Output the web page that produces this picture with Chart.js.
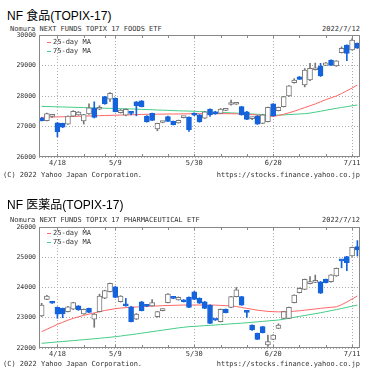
<!doctype html>
<html lang="ja">
<head>
<meta charset="utf-8">
<title>NF 食品 / NF 医薬品 (TOPIX-17)</title>
<script src="https://cdn.jsdelivr.net/npm/chart.js"></script>
<style>
  body { margin: 0; width: 374px; height: 380px; background: #fff; position: relative; overflow: hidden; }
  .t { position: absolute; white-space: nowrap; }
  .title { font: 12px 'Liberation Sans', 'Noto Sans CJK JP', sans-serif; color: #000; line-height: 14px; }
  .small { font: 7px 'DejaVu Sans Mono', monospace; color: #333; line-height: 9px; }
  .dash { position: absolute; width: 4px; height: 1px; }
  canvas { position: absolute; left: 0; }
</style>
</head>
<body>
<div class="t title" style="left:7px;top:9px">NF 食品(TOPIX-17)</div>
<div class="t small" style="left:10px;top:25px">Nomura NEXT FUNDS TOPIX 17 FOODS ETF</div>
<div class="t small" style="right:14px;top:25px">2022/7/12</div>
<canvas id="food" width="374" height="147" style="top:25px"></canvas>
<div class="dash" style="left:47px;top:42px;background:#f66"></div>
<div class="t small" style="left:53px;top:38px">25-day MA</div>
<div class="dash" style="left:47px;top:51px;background:#4c8"></div>
<div class="t small" style="left:53px;top:46.5px">75-day MA</div>
<div class="t small" style="left:3px;top:170.5px">(C) 2022 Yahoo Japan Corporation.</div>
<div class="t small" style="right:14px;top:170.5px">https://stocks.finance.yahoo.co.jp</div>

<div class="t title" style="left:7px;top:198px">NF 医薬品(TOPIX-17)</div>
<div class="t small" style="left:10px;top:216px">Nomura NEXT FUNDS TOPIX 17 PHARMACEUTICAL ETF</div>
<div class="t small" style="right:14px;top:216px">2022/7/12</div>
<canvas id="pharma" width="374" height="146" style="top:217px"></canvas>
<div class="dash" style="left:47px;top:233px;background:#f66"></div>
<div class="t small" style="left:53px;top:228.5px">25-day MA</div>
<div class="dash" style="left:47px;top:242px;background:#4c8"></div>
<div class="t small" style="left:53px;top:237.5px">75-day MA</div>
<div class="t small" style="left:3px;top:359.5px">(C) 2022 Yahoo Japan Corporation.</div>
<div class="t small" style="right:14px;top:359.5px">https://stocks.finance.yahoo.co.jp</div>

<script>
// trading days 2022/4/13 - 2022/7/12
const dates = [
  '4/13', '4/14', '4/15', '4/18', '4/19', '4/20', '4/21', '4/22', '4/25', '4/26', '4/27', '4/28',
  '5/2', '5/6', '5/9', '5/10', '5/11', '5/12', '5/13', '5/16', '5/17', '5/18', '5/19', '5/20',
  '5/23', '5/24', '5/25', '5/26', '5/27', '5/30', '5/31',
  '6/1', '6/2', '6/3', '6/6', '6/7', '6/8', '6/9', '6/10', '6/13', '6/14', '6/15', '6/16', '6/17',
  '6/20', '6/21', '6/22', '6/23', '6/24', '6/27', '6/28', '6/29', '6/30',
  '7/1', '7/4', '7/5', '7/6', '7/7', '7/8', '7/11', '7/12',
]
const axisLabels = ['4/18', '5/9', '5/30', '6/20', '7/11']

const foodOpen = [
  27280, 27190, 27330, 27120, 27100, 27080, 27340, 27380, 27180, 27410, 27600, 27565,
  27980, 27900, 27925, 27450, 27370, 27485, 27810, 27845, 27345, 27430, 26920, 27130,
  27325, 27170, 27115, 27290, 27310, 27430, 27380, 27270, 27565, 27485, 27430, 27530,
  27720, 27730, 27650, 27485, 27260, 27345, 27105, 27160, 27740, 27520, 27650, 28000,
  28435, 28630, 28360, 28525, 28860, 28985, 29005, 29180, 28985, 29420, 29670, 29510, 29730,
]
const foodHigh = [
  27300, 27440, 27390, 27130, 27110, 27350, 27520, 27490, 27400, 27740, 27810, 27680,
  27990, 28110, 27940, 27560, 27580, 27500, 27820, 27850, 27360, 27440, 27110, 27160,
  27340, 27180, 27210, 27330, 27320, 27450, 27390, 27500, 27580, 27500, 27590, 27560,
  27870, 27760, 27660, 27500, 27320, 27360, 27400, 27640, 27750, 27640, 27990, 28340,
  28570, 28640, 28900, 29070, 29080, 29070, 29100, 29190, 29160, 29610, 29680, 29880, 29740,
]
const foodLow = [
  27180, 27180, 27300, 26660, 26960, 27070, 27330, 27370, 27080, 27400, 27280, 27550,
  27730, 27820, 27480, 27440, 27350, 27380, 27350, 27640, 27140, 27190, 26860, 27120,
  27160, 27050, 27110, 27280, 26840, 27360, 27140, 27260, 27330, 27400, 27420, 27520,
  27700, 27720, 27370, 27220, 27220, 27070, 27090, 27150, 27340, 27510, 27640, 27990,
  28420, 28540, 28300, 28500, 28850, 28640, 29000, 29000, 28970, 29410, 29160, 29500, 29560,
]
const foodClose = [
  27190, 27420, 27350, 26830, 26980, 27340, 27500, 27470, 27390, 27610, 27300, 27610,
  27740, 28090, 27490, 27540, 27565, 27430, 27680, 27650, 27150, 27200, 27105, 27150,
  27170, 27060, 27200, 27310, 26900, 27370, 27150, 27485, 27380, 27410, 27575, 27550,
  27740, 27740, 27380, 27235, 27280, 27080, 27380, 27630, 27345, 27630, 27980, 28330,
  28525, 28545, 28850, 28905, 28880, 28655, 29090, 29005, 29150, 29565, 29400, 29835, 29565,
]
const foodMa25 = [
  27300, 27305, 27310, 27315, 27320, 27325, 27330, 27335, 27340, 27345,
  27350, 27355, 27360, 27365, 27370, 27375, 27380, 27385, 27390, 27395,
  27400, 27400, 27405, 27405, 27410, 27410, 27410, 27415, 27415, 27420,
  27420, 27420, 27420, 27420, 27420, 27420, 27420, 27415, 27410, 27400,
  27390, 27375, 27360, 27345, 27330, 27360, 27400, 27450, 27500, 27560,
  27620, 27680, 27740, 27810, 27880, 27940, 28000, 28080, 28170, 28260, 28360,
]
const foodMa75 = [
  27660, 27655, 27650, 27645, 27640, 27635, 27630, 27625, 27620, 27615,
  27610, 27605, 27600, 27595, 27590, 27585, 27580, 27575, 27570, 27560,
  27555, 27550, 27540, 27535, 27530, 27520, 27515, 27510, 27505, 27500,
  27490, 27485, 27475, 27470, 27460, 27455, 27445, 27440, 27430, 27420,
  27410, 27400, 27390, 27380, 27370, 27375, 27380, 27390, 27400, 27410,
  27420, 27440, 27470, 27500, 27535, 27565, 27595, 27625, 27650, 27680, 27705,
]

const pharmaOpen = [
  23060, 23610, 23530, 23345, 23310, 23200, 23280, 23390, 23125, 23310, 22950, 23200,
  23645, 23860, 24025, 23530, 23455, 23365, 22950, 23530, 23400, 23390, 23035, 23235,
  23500, 23650, 23590, 23590, 23675, 23860, 23645, 23530, 23420, 22930, 22870, 23280,
  23345, 23700, 23700, 23200, 22760, 22485, 22705, 22100, 22285, 22650, 22980, 22980,
  23500, 23830, 23940, 24130, 24170, 24190, 24270, 24190, 24380, 24900, 25020, 25040, 25350,
]
const pharmaHigh = [
  23480, 23740, 23540, 23360, 23320, 23380, 23510, 23400, 23290, 23320, 23140, 23780,
  23910, 24150, 24040, 23730, 23640, 23380, 23140, 23540, 23410, 23600, 23210, 23300,
  23800, 23660, 23690, 23600, 23690, 23870, 23660, 23540, 23430, 22940, 23290, 23290,
  23710, 24000, 23710, 23210, 22770, 22495, 22715, 22430, 22440, 22800, 23210, 23355,
  23760, 23990, 24280, 24360, 24410, 24200, 24280, 24425, 24645, 24910, 25030, 25340, 25550,
]
const pharmaLow = [
  23040, 23600, 23470, 22980, 23000, 23190, 23270, 23245, 23115, 23170, 22685, 23190,
  23630, 23850, 23665, 23520, 23380, 22860, 22940, 23225, 23370, 23380, 23020, 23225,
  23490, 23630, 23580, 23520, 23335, 23600, 23470, 23300, 22805, 22910, 22860, 23160,
  23335, 23690, 23410, 23015, 22585, 22275, 22495, 22050, 22275, 22640, 22970, 22970,
  23490, 23820, 23930, 24120, 24160, 23800, 24150, 24180, 24370, 24650, 24555, 25030, 25040,
]
const pharmaClose = [
  23420, 23720, 23480, 23115, 23125, 23365, 23500, 23255, 23280, 23180, 23125, 23720,
  23895, 24140, 23675, 23720, 23390, 22870, 23125, 23235, 23380, 23500, 23200, 23290,
  23785, 23640, 23675, 23530, 23345, 23610, 23480, 23310, 22815, 22920, 23280, 23170,
  23700, 23920, 23420, 23180, 22595, 22285, 22505, 22210, 22430, 22760, 23200, 23345,
  23750, 23975, 24270, 24150, 24190, 23810, 24160, 24415, 24635, 24880, 24820, 25330, 25240,
]
const pharmaMa25 = [
  22540, 22620, 22700, 22780, 22850, 22920, 22980, 23030, 23080, 23120,
  23160, 23200, 23240, 23270, 23300, 23320, 23335, 23345, 23355, 23365,
  23375, 23385, 23390, 23400, 23405, 23410, 23415, 23420, 23420, 23420,
  23420, 23420, 23420, 23415, 23410, 23400, 23390, 23370, 23340, 23310,
  23280, 23250, 23230, 23210, 23200, 23195, 23200, 23205, 23215, 23230,
  23250, 23270, 23290, 23310, 23330, 23345, 23360, 23430, 23520, 23620, 23720,
]
const pharmaMa75 = [
  22155, 22170, 22185, 22200, 22215, 22230, 22245, 22260, 22275, 22290,
  22305, 22320, 22340, 22355, 22375, 22395, 22420, 22440, 22465, 22490,
  22515, 22540, 22565, 22590, 22615, 22640, 22665, 22685, 22705, 22715,
  22725, 22740, 22750, 22760, 22775, 22785, 22800, 22810, 22820, 22835,
  22850, 22865, 22880, 22895, 22910, 22925, 22950, 22980, 23015, 23045,
  23075, 23105, 23135, 23165, 23200, 23235, 23270, 23305, 23345, 23380, 23420,
]

const BLUE = '#1463dc'
const GRAY = '#777'
const GRID = '#aaa'
const SMALL = { size: 7, family: "'DejaVu Sans Mono', monospace" }

// first trading day of each week gets a short tick on the frame
const weekStarts = dates
  .map((d, i) => {
    if (i == 0) return -1
    const dow = (s) => {
      const [m, dd] = s.split('/').map(Number)
      return new Date(2022, m - 1, dd).getDay()
    }
    return dow(d) < dow(dates[i - 1]) ? i : -1
  })
  .filter((i) => i >= 0)

const frame = {
  id: 'frame',
  afterDraw(chart) {
    const { ctx, chartArea: a, scales } = chart
    ctx.save()
    ctx.strokeStyle = '#888'
    ctx.lineWidth = 1
    ctx.strokeRect(a.left + 0.5, a.top + 0.5, a.right - a.left - 1, a.bottom - a.top - 1)
    ctx.beginPath()
    weekStarts.forEach((i) => {
      const px = Math.round(scales.x.getPixelForValue(i)) + 0.5
      ctx.moveTo(px, a.top)
      ctx.lineTo(px, a.top + 3)
      ctx.moveTo(px, a.bottom)
      ctx.lineTo(px, a.bottom - 3)
    })
    ctx.stroke()
    ctx.restore()
  },
}

function candleChart(id, open, high, low, close, ma25, ma75, yMin, yMax) {
  const up = close.map((c, i) => c >= open[i])
  new Chart(document.getElementById(id), {
    type: 'bar',
    data: {
      labels: dates,
      datasets: [
        {
          type: 'line',
          data: ma25,
          borderColor: '#f66',
          borderWidth: 1,
          pointRadius: 0,
          order: 3,
        },
        {
          type: 'line',
          data: ma75,
          borderColor: '#4c8',
          borderWidth: 1,
          pointRadius: 0,
          order: 4,
        },
        {
          data: low.map((l, i) => [l, high[i]]),
          backgroundColor: up.map((u) => (u ? GRAY : BLUE)),
          barThickness: 1,
          grouped: false,
          order: 2,
        },
        {
          data: open.map((o, i) => [o, close[i]]),
          backgroundColor: up.map((u) => (u ? '#fff' : BLUE)),
          borderColor: up.map((u) => (u ? GRAY : BLUE)),
          borderWidth: 1,
          borderSkipped: false,
          barThickness: 5,
          minBarLength: 2,
          grouped: false,
          order: 1,
        },
      ],
    },
    options: {
      responsive: false,
      animation: false,
      layout: { padding: { top: 10, right: 14, left: 0, bottom: 0 } },
      plugins: { legend: { display: false }, tooltip: { enabled: false } },
      scales: {
        x: {
          grid: {
            offset: false,
            drawTicks: false,
            color: (c) => (axisLabels.includes(dates[c.index]) ? GRID : 'rgba(0,0,0,0)'),
          },
          border: { display: false, dash: [1, 2] },
          ticks: {
            autoSkip: false,
            maxRotation: 0,
            padding: 2,
            color: '#333',
            font: SMALL,
            callback: (v, i) => (axisLabels.includes(dates[i]) ? dates[i] : ''),
          },
          afterFit: (s) => {
            s.height = 15
          },
        },
        y: {
          min: yMin,
          max: yMax,
          grid: { color: GRID, drawTicks: false },
          border: { display: false, dash: [1, 2] },
          ticks: {
            stepSize: 1000,
            padding: 3,
            color: '#333',
            font: { size: 6.5, family: SMALL.family },
            callback: (v) => String(v),
          },
          afterFit: (s) => {
            s.width = 39
          },
        },
      },
    },
    plugins: [frame],
  })
}

candleChart('food', foodOpen, foodHigh, foodLow, foodClose, foodMa25, foodMa75, 26000, 30000)
candleChart('pharma', pharmaOpen, pharmaHigh, pharmaLow, pharmaClose, pharmaMa25, pharmaMa75, 22000, 26000)
</script>
</body>
</html>
